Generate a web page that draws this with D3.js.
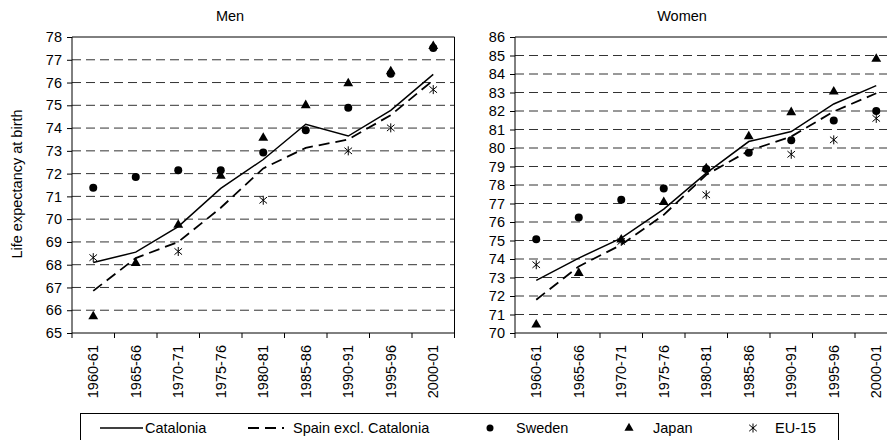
<!DOCTYPE html>
<html><head><meta charset="utf-8">
<script src="https://cdn.jsdelivr.net/npm/d3@7"></script>
<style>body{margin:0;background:#fff}svg{display:block;font-family:"Liberation Sans",Arial,sans-serif}</style>
</head><body>
<svg id="c" width="887" height="440"></svg>
<script>
const categories = ["1960-61","1965-66","1970-71","1975-76","1980-81","1985-86","1990-91","1995-96","2000-01"];
const menCatalonia = [68.1,68.55,69.67,71.35,72.62,74.17,73.65,74.78,76.36];
const menSpain     = [66.85,68.29,69.0,70.5,72.23,73.13,73.5,74.57,76.1];
const menSweden    = [71.38,71.85,72.15,72.15,72.93,73.9,74.89,76.39,77.52];
const menJapan     = [65.73,68.07,69.75,71.9,73.57,75.0,75.96,76.49,77.6];
const menEU15      = [68.31,null,68.58,null,70.83,null,73.0,74.01,75.69];
const womenCatalonia = [72.84,74.05,75.13,76.7,78.64,80.35,80.89,82.38,83.37];
const womenSpain     = [71.8,73.6,74.77,76.39,78.55,79.85,80.62,81.97,82.96];
const womenSweden    = [75.07,76.24,77.2,77.81,78.87,79.75,80.42,81.48,82.0];
const womenJapan     = [70.45,73.24,75.04,77.07,78.9,80.62,81.93,83.05,84.81];
const womenEU15      = [73.69,null,74.95,null,77.47,null,79.66,80.44,81.6];
const menTicks = d3.range(65,79,1);
const womenTicks = d3.range(70,87,1);
const legendLabels = ["Catalonia","Spain excl. Catalonia","Sweden","Japan","EU-15"];

const svg = d3.select("#c");
const FS = 14.5;

function star(g, x, y) {
  const h = 4.5, w = 3.8, d = 3.2;
  const p = d3.path();
  p.moveTo(x, y - h); p.lineTo(x, y + h);
  p.moveTo(x-w, y-d); p.lineTo(x+w, y+d);
  p.moveTo(x-w, y+d); p.lineTo(x+w, y-d);
  g.append("path").attr("d", p.toString()).attr("stroke","#000").attr("stroke-width",1).attr("fill","none");
}
const triSym = d3.symbol().type(d3.symbolTriangle).size(42);

function panel(opts) {
  const {x0, x1, yTop, yBot, domain, ticks, title, titleX, cat, spa, swe, jap, eu} = opts;
  const g = svg.append("g");
  const x = d3.scaleBand().domain(categories).range([x0, x1]).padding(0);
  const cx = c => x(c) + x.bandwidth()/2;
  const y = d3.scaleLinear().domain(domain).range([yBot, yTop]);

  g.selectAll("line.grid").data(ticks.filter(t => t > domain[0] && t < domain[1])).join("line")
    .attr("x1", x0).attr("x2", x1).attr("y1", d => y(d)).attr("y2", d => y(d))
    .attr("stroke", "#333").attr("stroke-width", 1).attr("stroke-dasharray", "9,5");
  g.append("line").attr("x1", x0).attr("x2", x1).attr("y1", y(domain[1])).attr("y2", y(domain[1])).attr("stroke","#000");
  g.append("line").attr("x1", x1).attr("x2", x1).attr("y1", yTop).attr("y2", yBot).attr("stroke","#000");

  const ya = d3.axisLeft(y).tickValues(ticks).tickSize(5).tickPadding(5).tickFormat(d3.format("d"));
  const yg = g.append("g").attr("transform", `translate(${x0},0)`).call(ya);
  yg.select(".domain").attr("stroke","#000").attr("d", `M-0,${yTop}V${yBot}`);
  yg.selectAll("text").attr("font-size", FS).attr("fill","#000").attr("font-family",'"Liberation Sans",Arial,sans-serif');

  g.append("line").attr("x1", x0).attr("x2", x1).attr("y1", yBot).attr("y2", yBot).attr("stroke","#000");
  const edges = categories.map(c => x(c)).concat([x1]);
  g.selectAll("line.xt").data(edges).join("line")
    .attr("x1", d => d).attr("x2", d => d).attr("y1", yBot).attr("y2", yBot + 5).attr("stroke","#000");
  g.selectAll("text.xl").data(categories).join("text")
    .attr("transform", d => `translate(${cx(d)},${yBot + 12}) rotate(-90)`)
    .attr("text-anchor","end").attr("dy","0.35em").attr("font-size", FS).text(d => d);

  g.append("text").attr("x", titleX).attr("y", 21)
    .attr("text-anchor","middle").attr("font-size", FS).text(title);

  const line = d3.line().x((d,i) => cx(categories[i])).y(d => y(d));
  g.append("path").attr("d", line(spa)).attr("fill","none").attr("stroke","#000").attr("stroke-width",1.8).attr("stroke-dasharray","11,6");
  g.append("path").attr("d", line(cat)).attr("fill","none").attr("stroke","#000").attr("stroke-width",1.5);

  categories.forEach((c,i) => {
    if (swe[i] != null) g.append("circle").attr("cx", cx(c)).attr("cy", y(swe[i])).attr("r", 4).attr("fill","#000");
    if (jap[i] != null) g.append("path").attr("d", triSym()).attr("transform", `translate(${cx(c)},${y(jap[i])})`).attr("fill","#000");
    if (eu[i] != null) star(g, cx(c), y(eu[i]));
  });
}

panel({x0:72, x1:454.5, yTop:37, yBot:333, domain:[65,78], ticks:menTicks, title:"Men", titleX:230,
  cat:menCatalonia, spa:menSpain, swe:menSweden, jap:menJapan, eu:menEU15});
panel({x0:515, x1:897.5, yTop:37, yBot:333, domain:[70,86], ticks:womenTicks, title:"Women", titleX:682,
  cat:womenCatalonia, spa:womenSpain, swe:womenSweden, jap:womenJapan, eu:womenEU15});

svg.append("text").attr("transform","translate(17,184) rotate(-90)").attr("text-anchor","middle")
  .attr("dy","0.35em").attr("font-size",FS).text("Life expectancy at birth");

const lg = svg.append("g");
lg.append("rect").attr("x",80.5).attr("y",413.5).attr("width",758).attr("height",30).attr("fill","#fff").attr("stroke","#000");
const ly = 428;
lg.append("line").attr("x1",100).attr("x2",143).attr("y1",ly).attr("y2",ly).attr("stroke","#000").attr("stroke-width",1.5);
lg.append("text").attr("x",145).attr("y",ly).attr("dy","0.35em").attr("font-size",FS).text(legendLabels[0]);
lg.append("line").attr("x1",248).attr("x2",284).attr("y1",ly).attr("y2",ly).attr("stroke","#000").attr("stroke-width",1.8).attr("stroke-dasharray","11,6");
lg.append("text").attr("x",293).attr("y",ly).attr("dy","0.35em").attr("font-size",FS).text(legendLabels[1]);
lg.append("circle").attr("cx",490).attr("cy",ly).attr("r",3.5).attr("fill","#000");
lg.append("text").attr("x",516).attr("y",ly).attr("dy","0.35em").attr("font-size",FS).text(legendLabels[2]);
lg.append("path").attr("d", d3.symbol().type(d3.symbolTriangle).size(36)()).attr("transform",`translate(629,${ly})`).attr("fill","#000");
lg.append("text").attr("x",653).attr("y",ly).attr("dy","0.35em").attr("font-size",FS).text(legendLabels[3]);
star(lg, 753, ly);
lg.append("text").attr("x",775).attr("y",ly).attr("dy","0.35em").attr("font-size",FS).text(legendLabels[4]);
</script>
</body></html>
